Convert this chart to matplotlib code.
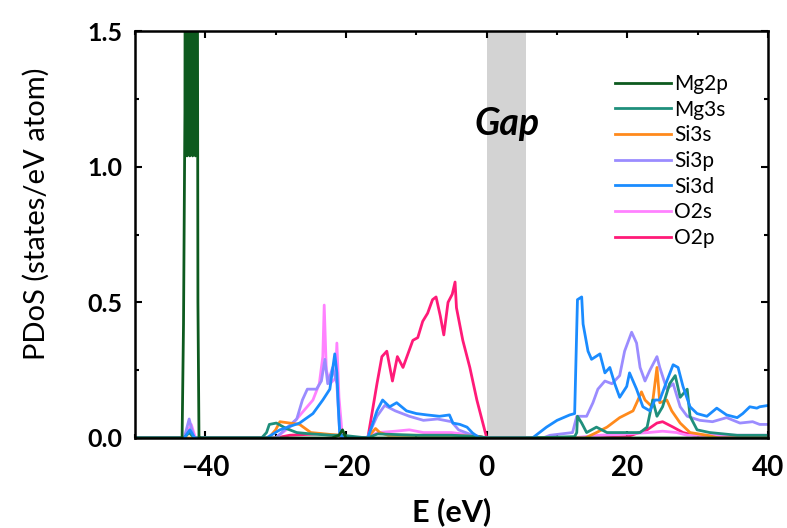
import matplotlib
matplotlib.use('Agg')
import matplotlib.pyplot as plt
from matplotlib.ticker import MultipleLocator

plt.rcParams['font.family'] = ['Lato', 'DejaVu Sans']

# energies (eV) and PDoS values (states/eV atom)
mg2p_e = [-50, -43.3, -43.1, -42.9, -42.8, -42.6, -42.4, -42.2, -42.0, -41.8, -41.6, -41.4, -41.2, -41.05, -40.9,
          -40.8, -22, -21, -20.5, -20, -19.5, 40]
mg2p_v = [0, 0, 0.42, 1.2, 3.0, 1.04, 3.0, 1.04, 3.0, 1.04, 3.0, 1.04, 3.0, 0.5, 0.0,
          0, 0, 0.01, 0.03, 0.0, 0, 0]

mg3s_e = [-50, -43, -42.3, -41.6, -32, -31.3, -30.9, -29.9, -28.5, -27, -25, -22, -20.5, -17, -15.5, -10, -5, -1, 0,
          6, 12.5, 12.8, 12.9, 13.5, 14.2, 15.6, 17.1, 19.9, 21.8, 22.8, 23.6, 24.2, 25.0, 26.0, 26.8, 27.5, 28.5,
          28.9, 29.9, 31.7, 35.6, 40]
mg3s_v = [0, 0, 0.02, 0, 0, 0.02, 0.05, 0.055, 0.035, 0.02, 0.015, 0.01, 0.01, 0, 0.015, 0.01, 0.01, 0.005, 0,
          0, 0.005, 0.02, 0.08, 0.055, 0.02, 0.04, 0.02, 0.02, 0.02, 0.04, 0.14, 0.08, 0.115, 0.2, 0.23, 0.15, 0.18,
          0.08, 0.03, 0.02, 0.01, 0.01]

si3s_e = [-50, -31, -30, -29.4, -28, -26.6, -25, -23, -21, -20.5, -17, -15.8, -15.2, -14, -10, -5, -1, 0,
          14, 15.6, 17.1, 18.9, 20.8, 21.5, 22.0, 22.5, 23.5, 24.2, 24.6, 25.6, 26.3, 27.5, 28.9, 31.3, 33, 40]
si3s_v = [0, 0, 0.03, 0.06, 0.055, 0.05, 0.02, 0.015, 0.01, 0, 0, 0.035, 0.02, 0.01, 0.01, 0.01, 0.005, 0,
          0, 0.02, 0.04, 0.075, 0.1, 0.14, 0.17, 0.14, 0.115, 0.26, 0.13, 0.14, 0.1, 0.055, 0.02, 0.01, 0, 0]

si3p_e = [-50, -43, -42.3, -41.6, -30, -27.0, -26.2, -25.5, -24.2, -23.5, -23.0, -22.6, -21.9, -21.3, -20.9, -20.5,
          -17, -15.6, -14.5, -13, -11, -9, -7, -5, -4, -3, -2, 0,
          8, 9.0, 12.2, 12.8, 14.2, 15.1, 15.8, 16.8, 17.8, 18.9, 19.6, 20.6, 21.3, 21.8, 22.5, 23.2, 24.2, 24.6,
          25.6, 26.5, 27.5, 28.5, 30.3, 32.1, 34.1, 36.0, 37.8, 38.8, 40]
si3p_v = [0, 0, 0.07, 0, 0, 0.07, 0.14, 0.18, 0.18, 0.21, 0.29, 0.2, 0.26, 0.2, 0.02, 0,
          0, 0.08, 0.12, 0.1, 0.08, 0.065, 0.07, 0.06, 0.03, 0.02, 0.01, 0,
          0, 0.01, 0.02, 0.08, 0.08, 0.13, 0.18, 0.21, 0.2, 0.23, 0.32, 0.39, 0.35, 0.26, 0.21, 0.25, 0.30, 0.26,
          0.18, 0.2, 0.115, 0.08, 0.065, 0.06, 0.075, 0.055, 0.06, 0.05, 0.05]

si3d_e = [-50, -43, -42.2, -41.5, -32, -31.3, -29.4, -26.6, -24.7, -23.3, -22.3, -21.6, -21.3, -21.1, -20.9, -20.5,
          -17, -16.9, -15.6, -14.8, -13.8, -12.8, -11.4, -10.0, -8.5, -6.7, -5.3, -4.8, -3.8, -2.8, -2.0, -1.0, 0,
          6, 6.5, 8.5, 10.0, 11.8, 12.5, 12.9, 13.5, 13.7, 14.4, 14.9, 16.1, 16.8, 17.5, 18.2, 18.9, 19.9, 20.3,
          21.3, 22.2, 23.2, 23.9, 24.6, 25.6, 26.5, 27.2, 27.9, 28.9, 29.9, 31.3, 32.7, 34.1, 35.6, 36.4, 37.4,
          38.4, 38.8, 40]
si3d_v = [0, 0, 0.03, 0, 0, 0, 0.03, 0.055, 0.09, 0.14, 0.18, 0.31, 0.24, 0.12, 0.02, 0,
          0, 0, 0.1, 0.14, 0.115, 0.13, 0.10, 0.09, 0.085, 0.08, 0.085, 0.055, 0.05, 0.04, 0.018, 0, 0,
          0, 0, 0.04, 0.065, 0.085, 0.09, 0.51, 0.52, 0.42, 0.32, 0.29, 0.31, 0.24, 0.26, 0.2, 0.15, 0.19, 0.24,
          0.18, 0.115, 0.1, 0.14, 0.14, 0.21, 0.27, 0.26, 0.19, 0.115, 0.09, 0.08, 0.11, 0.085, 0.075, 0.09, 0.115,
          0.11, 0.115, 0.12]

o2s_e = [-50, -43, -42.0, -41.4, -30, -28, -24.7, -23.8, -23.3, -23.1, -22.8, -22.3, -21.5, -21.3, -21.0, -20.5,
         -17, -15.5, -13, -11, -9, -5, -2, 0,
         12, 16, 20, 23, 25, 27, 28.5, 31, 40]
o2s_v = [0, 0, 0.05, 0, 0, 0.04, 0.14, 0.2, 0.3, 0.49, 0.25, 0.2, 0.22, 0.35, 0.15, 0,
         0, 0.02, 0.025, 0.03, 0.02, 0.02, 0.01, 0,
         0, 0.01, 0.015, 0.02, 0.025, 0.02, 0.01, 0.01, 0.01]

o2p_e = [-50, -43, -42.1, -41.5, -30, -28, -24, -22, -21, -20.5, -17, -16.9, -15.6, -14.9, -14.2, -13.4, -12.7, -11.9,
         -11.2, -10.5, -9.8, -9.1, -8.4, -7.7, -7.2, -6.6, -6.1, -5.5, -4.9, -4.5, -4.3, -3.4, -2.4, -1.4, -0.7, 0,
         15, 20, 22.8, 24.2, 25.0, 26.5, 27.9, 29.5, 40]
o2p_v = [0, 0, 0.04, 0, 0, 0.01, 0.015, 0.01, 0.01, 0, 0, 0, 0.2, 0.30, 0.32, 0.21, 0.30, 0.26,
         0.31, 0.36, 0.37, 0.43, 0.46, 0.51, 0.52, 0.45, 0.38, 0.5, 0.53, 0.575, 0.48, 0.36, 0.26, 0.14, 0.07, 0,
         0, 0.005, 0.03, 0.055, 0.06, 0.04, 0.02, 0.01, 0.005]

names = ['Mg2p', 'Mg3s', 'Si3s', 'Si3p', 'Si3d', 'O2s', 'O2p']
colors = ['#0d5a1e', '#1f8f7c', '#ff8a1c', '#9b8cff', '#1a8cff', '#ff82ff', '#ff1a78']
series = [(mg2p_e, mg2p_v), (mg3s_e, mg3s_v), (si3s_e, si3s_v), (si3p_e, si3p_v),
          (si3d_e, si3d_v), (o2s_e, o2s_v), (o2p_e, o2p_v)]
draw_order = [6, 5, 3, 2, 1, 4, 0]

gap_lo, gap_hi = 0.0, 5.6

fig = plt.figure(figsize=(7.87, 5.28), dpi=100)
ax = fig.add_axes([0.1715, 0.1705, 0.8045, 0.7705])

ax.axvspan(gap_lo, gap_hi, color='#d3d3d3', lw=0, zorder=0)

lines = {}
for i in draw_order:
    e, v = series[i]
    ln, = ax.plot(e, v, color=colors[i], lw=2.0, label=names[i], zorder=2)
    lines[i] = ln

ax.text(2.9, 1.117, 'Gap', fontsize=27, fontweight='bold', style='italic', ha='center', va='baseline')

ax.set_xlim(-50, 40)
ax.set_ylim(0, 1.5)
ax.xaxis.set_major_locator(MultipleLocator(20))
ax.xaxis.set_minor_locator(MultipleLocator(10))
ax.yaxis.set_major_locator(MultipleLocator(0.5))
ax.yaxis.set_minor_locator(MultipleLocator(0.25))
ax.tick_params(which='both', direction='in', top=True, right=True, width=1.5)
ax.tick_params(which='major', length=5)
ax.tick_params(which='minor', length=3)
ax.tick_params(axis='x', which='major', labelsize=20, pad=12)
ax.tick_params(axis='y', which='major', labelsize=18, pad=9)
for lbl in ax.get_xticklabels() + ax.get_yticklabels():
    lbl.set_fontweight('bold')
for sp in ax.spines.values():
    sp.set_linewidth(1.8)

ax.set_xlabel('E (eV)', fontsize=22, fontweight='bold', labelpad=12)
ax.set_ylabel('PDoS (states/eV atom)', fontsize=21)
ax.yaxis.set_label_coords(-0.134, 0.55)

leg = ax.legend([lines[i] for i in range(7)], names, loc='upper left', bbox_to_anchor=(0.745, 0.915),
                borderaxespad=0, frameon=False, fontsize=15, handlelength=2.7, handletextpad=0.15,
                labelspacing=0.27)

fig.savefig('out.png', dpi=100)
